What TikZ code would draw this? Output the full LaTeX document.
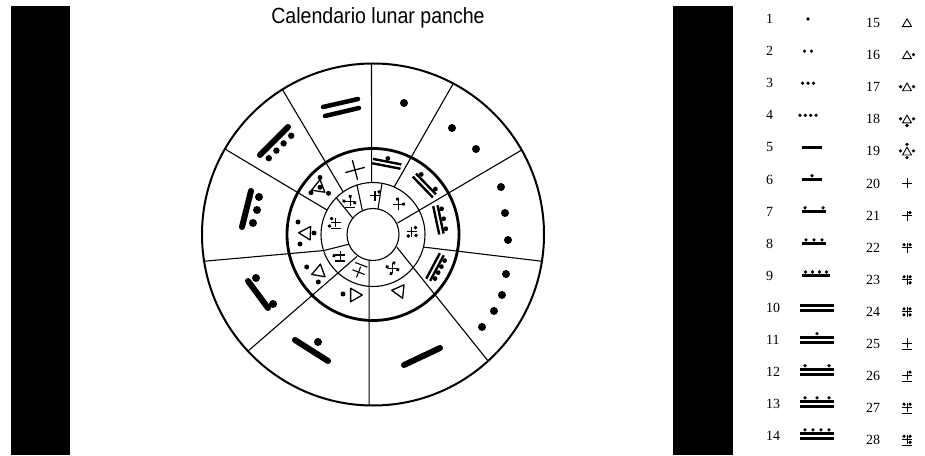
\documentclass[tikz,border=0pt]{standalone}
\usepackage{fontspec}
\setmainfont{Liberation Serif}
\newfontfamily\titlefont[FakeStretch=0.89]{Liberation Sans}

% numeral signs, drawn upright; dots side is +y
\tikzset{
  gd/.style={radius=1.8},
  gb/.style={line width=2.9pt},
  gt/.style={line width=0.9pt, line join=round},
  pics/sym1/.style={code={\fill (0,0) circle[gd];}},
  pics/sym2/.style={code={\foreach \x in {-3.5,3.5} \fill (\x,0) circle[gd];}},
  pics/sym3/.style={code={\foreach \x in {-5.5,0,5.5} \fill (\x,0) circle[gd];}},
  pics/sym4/.style={code={\foreach \x in {-8.1,-2.7,2.7,8.1} \fill (\x,0) circle[gd];}},
  pics/sym5/.style={code={\draw[gb] (-10,0) -- (10,0);}},
  pics/sym6/.style={code={\draw[gb] (-10,0) -- (10,0); \fill (0,3.8) circle[gd];}},
  pics/sym7/.style={code={\draw[gb] (-12,0) -- (12,0); \foreach \x in {-9,9} \fill (\x,3.8) circle[gd];}},
  pics/sym8/.style={code={\draw[gb] (-12,0) -- (12,0); \foreach \x in {-8,0,8} \fill (\x,3.8) circle[gd];}},
  pics/sym9/.style={code={\draw[gb] (-14,0) -- (14,0); \foreach \x in {-10.5,-3.5,3.5,10.5} \fill (\x,3.8) circle[gd];}},
  pics/sym10/.style={code={\draw[gb] (-17,2.6) -- (17,2.6) (-17,-2.6) -- (17,-2.6);}},
  pics/sym11/.style={code={\draw[gb] (-17,2.6) -- (17,2.6) (-17,-2.6) -- (17,-2.6); \fill (0,6.4) circle[gd];}},
  pics/sym12/.style={code={\draw[gb] (-17,2.6) -- (17,2.6) (-17,-2.6) -- (17,-2.6); \foreach \x in {-12,12} \fill (\x,6.4) circle[gd];}},
  pics/sym13/.style={code={\draw[gb] (-17,2.6) -- (17,2.6) (-17,-2.6) -- (17,-2.6); \foreach \x in {-12,0,12} \fill (\x,6.4) circle[gd];}},
  pics/sym14/.style={code={\draw[gb] (-17,2.6) -- (17,2.6) (-17,-2.6) -- (17,-2.6); \foreach \x in {-12,-4,4,12} \fill (\x,6.4) circle[gd];}},
  pics/sym15/.style={code={\draw[gt] (-4.5,-3.6) -- (4.5,-3.6) -- (0,4.2) -- cycle;}},
  pics/sym16/.style={code={\pic {sym15}; \fill (6.5,0.5) circle[gd];}},
  pics/sym17/.style={code={\pic {sym15}; \foreach \x in {-6.5,6.5} \fill (\x,0.5) circle[gd];}},
  pics/sym18/.style={code={\pic {sym15}; \fill (-6.5,0.5) circle[gd] (6.5,0.5) circle[gd] (0,-6.2) circle[gd];}},
  pics/sym19/.style={code={\pic {sym15}; \fill (-6.5,0.5) circle[gd] (6.5,0.5) circle[gd] (0,-6.2) circle[gd] (0,7) circle[gd];}},
  pics/sym20/.style={code={\draw[gt] (-5,0) -- (5,0) (0,-5) -- (0,5);}},
  pics/sym21/.style={code={\pic {sym20}; \fill (3,3) circle[gd];}},
  pics/sym22/.style={code={\pic {sym20}; \foreach \x in {-3,3} \fill (\x,3) circle[gd];}},
  pics/sym23/.style={code={\pic {sym20}; \fill (-3,3) circle[gd] (3,3) circle[gd] (3,-3) circle[gd];}},
  pics/sym24/.style={code={\pic {sym20}; \foreach \x in {-3,3} \foreach \y in {-3,3} \fill (\x,\y) circle[gd];}},
  pics/sym25/.style={code={\draw[gt] (-5,1) -- (5,1) (0,-3.5) -- (0,5.5) (-5,-5) -- (5,-5);}},
  pics/sym26/.style={code={\pic {sym25}; \fill (3,4) circle[gd];}},
  pics/sym27/.style={code={\pic {sym25}; \foreach \x in {-3,3} \fill (\x,4) circle[gd];}},
  pics/sym28/.style={code={\pic {sym25}; \fill (-3,4) circle[gd] (3,4) circle[gd] (3,-2) circle[gd];}},
}

\begin{document}
\begin{tikzpicture}[x=1pt, y=1pt,
  rim/.style={line width=2pt},
  midrim/.style={line width=2.8pt},
  spoke/.style={line width=1.1pt},
  bigdot/.style={radius=4},
  bigbar/.style={line width=6pt, line cap=round},
  middot/.style={radius=2.5},
  midsym/.style={scale=1.5, gt/.style={line width=1.3pt, line join=round}},
  midbar/.style={scale=0.85, gb/.style={line width=2.4pt}, gd/.style={radius=2.8}},
  insym/.style={scale=1.3, gt/.style={line width=1.1pt}, gd/.style={radius=1.5}},
  num/.style={font=\fontsize{14}{14}\selectfont, inner sep=0pt, anchor=west}]

  \fill[white] (0,0) rectangle (925,455);
  \fill (11,0) rectangle (70,449);
  \fill (673,0) rectangle (733,449);

  \node[font=\titlefont\fontsize{22}{22}\selectfont, inner sep=0pt] (title) at (378,437) {Calendario lunar panche};

  % the wheel
  \begin{scope}[shift={(373,220.5)}]
    \draw[rim] (0,0) circle[radius=171];
    \draw[midrim] (0,0) circle[radius=86];
    \draw[spoke] (0,0) circle[radius=52] (0,0) circle[radius=26];
    \foreach \a/\b/\r in {90.5/91.5/52, 62/66/52, 29.6/25/27, -9/-14/52, -47.7/-28/27,
        -91.3/-98.7/26, 223/234/27, 189/198/52, 150/152/52, 122/125/52}
      \draw[spoke] (\a:171) -- (\b:\r);
    \foreach \a/\b in {80/79, 108/114, 135/141, 198/202}
      \draw[spoke] (\a:52) -- (\b:26);

    % middle ring: 11 to 20
    \pic[midsym, scale=1.35, rotate=15] at (105.6:67) {sym20};
    \pic[midbar, rotate=-11] at (79:72) {sym11};
    \pic[midbar, rotate=-46] at (43.6:71) {sym12};
    \pic[midbar, rotate=-78] at (12.6:67) {sym13};
    \pic[midbar, rotate=-118] at (-27.7:70) {sym14};
    \pic[midsym, rotate=-156] at (-65:64) {sym15};
    \pic[midsym, rotate=-90] at (-17,-60.5) {sym15};
    \fill (-30,-59.5) circle[middot];
    \pic[midsym, rotate=-10] at (-53.7,-35.8) {sym15};
    \fill (-66.3,-32.5) circle[middot] (-54.7,-47.5) circle[middot];
    \pic[midsym, rotate=88] at (-68,1.5) {sym15};
    \fill (-75,12.5) circle[middot] (-59,1.5) circle[middot] (-73,-9.5) circle[middot];
    \pic[midsym, rotate=231] at (-53,46.2) {sym15};
    \fill (-53,57) circle[middot] (-62,41.8) circle[middot] (-44.5,41.2) circle[middot] (-53,47.2) circle[middot];

    % inner ring: 21 to 28
    \foreach \s/\a in {21/87, 22/50, 23/4, 24/-60, 25/-111, 26/213.5, 27/164, 28/126}
      \pic[insym, rotate=\a-90] at (\a:39) {sym\s};
  \end{scope}

  % outer ring: 1 to 10
  \fill (404,352) circle[bigdot];
  \fill (452,327) circle[bigdot] (476,306) circle[bigdot];
  \fill (501,268) circle[bigdot] (505,242) circle[bigdot] (508,215) circle[bigdot];
  \fill (506,181) circle[bigdot] (502,160) circle[bigdot] (494,144) circle[bigdot] (482,128) circle[bigdot];
  \draw[bigbar] (404,90) -- (440,107);
  \draw[bigbar] (295,115) -- (328,94);
  \fill (318,113) circle[bigdot];
  \draw[bigbar] (248,174) -- (268,147);
  \fill (256,177) circle[bigdot] (273,151) circle[bigdot];
  \draw[bigbar] (242,228) -- (251,264);
  \fill (259,258) circle[bigdot] (257,245) circle[bigdot] (253,232) circle[bigdot];
  \draw[bigbar] (260,300) -- (288,328);
  \fill (268.8,296.8) circle[radius=3.2] (276.4,304.4) circle[radius=3.2]
        (283.6,311.6) circle[radius=3.2] (291.2,319.2) circle[radius=3.2];
  \draw[bigbar, line width=4.5pt] (323,348) -- (358,356) (325,339) -- (359,347);

  % the key on the right
  \foreach \i/\x in {1/808, 2/808, 3/808, 4/808, 5/812, 6/812, 7/814, 8/814, 9/816,
      10/817, 11/817, 12/817, 13/817, 14/817} {
    \node[num] (num\i) at (766, {436-(\i-1)*32.1}) {\i};
    \pic at (\x, {436-(\i-1)*32.1}) {sym\i};
  }
  \foreach \i in {15,...,28} {
    \node[num] (num\i) at (866, {432-(\i-15)*32.1}) {\i};
    \pic at (907, {432-(\i-15)*32.1}) {sym\i};
  }
\end{tikzpicture}
\end{document}
